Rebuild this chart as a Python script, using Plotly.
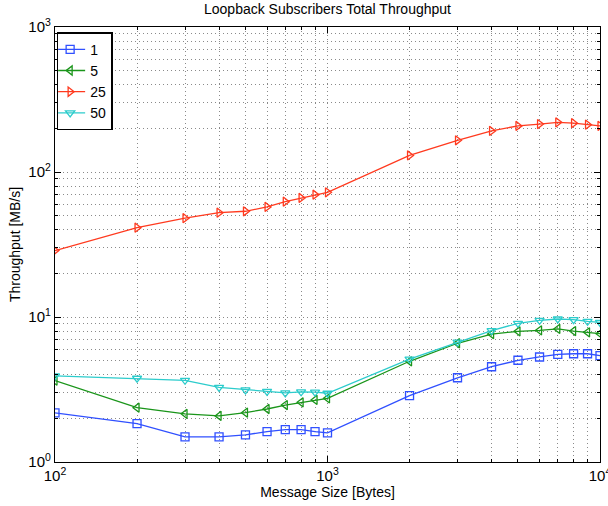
import plotly.graph_objects as go

sizes = [100, 200, 300, 400, 500, 600, 700, 800, 900, 1000,
         2000, 3000, 4000, 5000, 6000, 7000, 8000, 9000, 10000]
subs_1 = [2.18, 1.84, 1.49, 1.49, 1.54, 1.62, 1.67, 1.67, 1.62, 1.59,
          2.87, 3.81, 4.54, 5.03, 5.30, 5.53, 5.58, 5.58, 5.41]
subs_5 = [3.64, 2.37, 2.15, 2.08, 2.19, 2.32, 2.47, 2.58, 2.68, 2.75,
          4.95, 6.59, 7.63, 7.97, 8.09, 8.27, 8.00, 7.84, 7.67]
subs_25 = [28.7, 41.3, 48.0, 52.4, 53.6, 57.4, 62.4, 66.2, 69.7, 72.4,
           130, 165.5, 192, 208, 214, 220, 217, 212, 208]
subs_50 = [3.92, 3.78, 3.66, 3.27, 3.14, 3.07, 3.00, 3.05, 3.03, 2.98,
           5.13, 6.72, 8.05, 9.05, 9.49, 9.69, 9.58, 9.34, 9.19]

series = [("1", subs_1, "#3050ff", "square-open"),
          ("5", subs_5, "#1a951a", "triangle-left-open"),
          ("25", subs_25, "#ff3a1f", "triangle-right-open"),
          ("50", subs_50, "#2ccccc", "triangle-down-open")]

x_major = [100, 1000, 10000]
x_major_text = ["10<sup>2</sup>", "10<sup>3</sup>", "10<sup>4</sup>"]
y_major = [1, 10, 100, 1000]
y_major_text = ["10<sup>0</sup>", "10<sup>1</sup>", "10<sup>2</sup>", "10<sup>3</sup>"]

x_minor = [m * d for d in (100, 1000) for m in range(2, 10)]
y_minor = [m * d for d in (1, 10, 100) for m in range(2, 10)]

fig = go.Figure()
for name, ys, col, sym in series:
    fig.add_trace(go.Scatter(
        x=sizes, y=ys, name=name, mode="lines+markers",
        line=dict(color=col, width=1.3),
        marker=dict(symbol=sym, size=8, color=col, line=dict(color=col, width=1.3)),
    ))

font = "Liberation Sans, Arial, Helvetica, sans-serif"
grid_col = "#8a8a8a"
grid_dash = "1px,3px"
axis_common = dict(
    type="log", showline=True, linecolor="black", linewidth=1.3, mirror="ticks",
    ticks="inside", ticklen=6, tickcolor="black", tickwidth=1,
    showgrid=True, gridcolor=grid_col, griddash=grid_dash, gridwidth=1,
    zeroline=False, tickfont=dict(size=15, color="black", family=font),
    tickmode="array", ticklabeloverflow="allow", automargin=False,
)

fig.update_xaxes(
    **axis_common, range=[2, 4], tickvals=x_major, ticktext=x_major_text,
    title=dict(text="Message Size [Bytes]", font=dict(size=14, color="black", family=font), standoff=2),
    minor=dict(tickmode="array", tickvals=x_minor, ticks="inside", ticklen=3,
               tickcolor="black", showgrid=True, gridcolor=grid_col, griddash=grid_dash, gridwidth=1),
)
fig.update_yaxes(
    **axis_common, range=[0, 3], tickvals=y_major, ticktext=y_major_text,
    title=dict(text="Throughput [MB/s]", font=dict(size=14, color="black", family=font), standoff=4),
    minor=dict(tickmode="array", tickvals=y_minor, ticks="inside", ticklen=3,
               tickcolor="black", showgrid=True, gridcolor=grid_col, griddash=grid_dash, gridwidth=1),
)

fig.update_layout(
    width=608, height=506,
    margin=dict(l=55, r=8, t=27, b=44, autoexpand=False),
    paper_bgcolor="white", plot_bgcolor="white",
    title=dict(text="Loopback Subscribers Total Throughput", x=0.5, xref="paper",
               y=1, yref="container", yanchor="top", pad=dict(t=4),
               font=dict(size=14, color="black", family=font)),
    font=dict(family=font, color="black"),
    legend=dict(x=0.003, y=0.988, xanchor="left", yanchor="top",
                bgcolor="white", bordercolor="black", borderwidth=1.5,
                font=dict(size=14, color="black", family=font),
                tracegroupgap=0, itemwidth=30, indentation=-8),
    showlegend=True,
)

fig.write_html("out.html")
